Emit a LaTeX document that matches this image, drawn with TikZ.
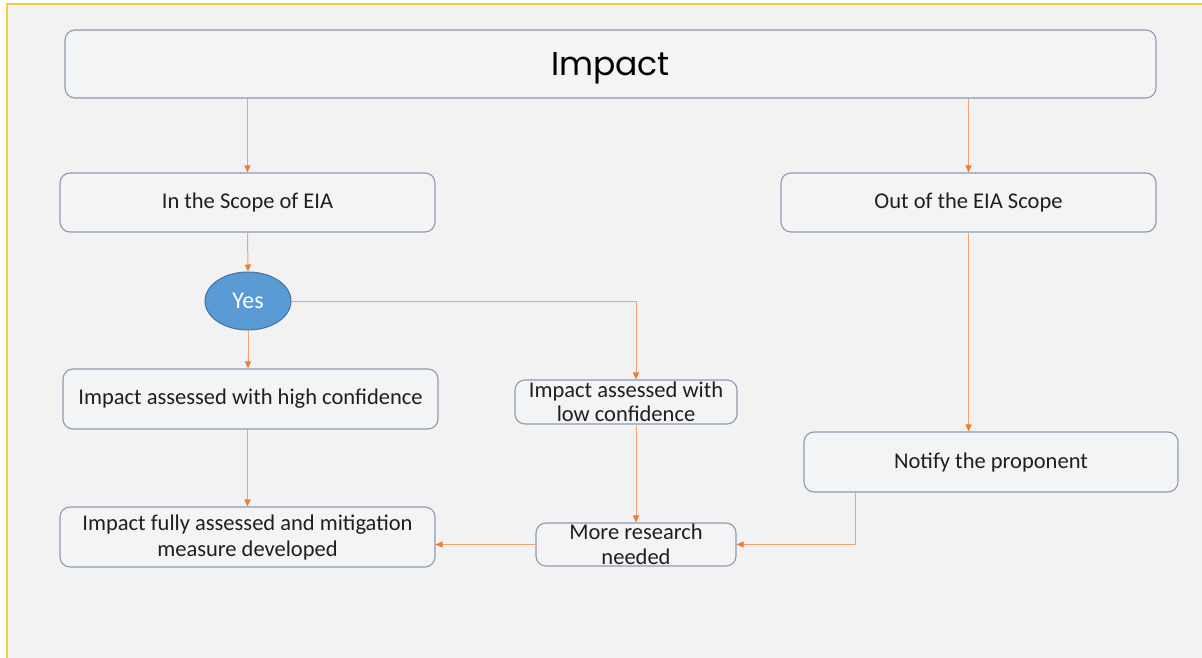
\documentclass[tikz,border=0pt]{standalone}
\usepackage{fontspec}
\setmainfont{Carlito}
\newfontfamily\titlefont{Poppins}
\usetikzlibrary{shapes.geometric,arrows.meta}
\definecolor{bgc}{HTML}{F2F2F2}
\definecolor{boxfill}{HTML}{F3F4F6}
\definecolor{boxline}{HTML}{8C9BB0}
\definecolor{arr}{HTML}{F2A46F}
\definecolor{arrhead}{HTML}{ED7D31}
\definecolor{yesfill}{HTML}{5B9BD5}
\definecolor{yesline}{HTML}{41719C}
\definecolor{frame}{HTML}{F0D040}
\tikzset{
  box/.style={draw=boxline, fill=boxfill, line width=1.1pt, rounded corners=10pt,
    align=center, inner sep=1pt, font=\fontsize{22.5}{26}\selectfont, text=black!88},
  conn/.style={draw=arr, line width=1pt, -{Triangle[length=7pt,width=6pt,fill=arrhead,color=arrhead]}},
}
\begin{document}
\begin{tikzpicture}[x=1pt,y=-1pt]
\useasboundingbox (0,0) rectangle (1202,658);
\fill[white] (0,0) rectangle (1202,658);
\fill[bgc] (7,4) rectangle (1202,658);
\draw[frame, line width=1.5pt] (7,658) -- (7,4) -- (1202,4);

\node[box, minimum width=1091pt, minimum height=68pt, text=black, font=\titlefont\fontsize{33}{38}\selectfont] (impact) at (610.5,64) {\raisebox{-12pt}[0pt][0pt]{Impact}};
\node[box, minimum width=375pt, minimum height=59pt] (inscope) at (247.5,202.5) {In the Scope of EIA};
\node[box, minimum width=375pt, minimum height=59pt] (outscope) at (968.5,202.5) {Out of the EIA Scope};
\node[ellipse, draw=yesline, fill=yesfill, line width=1pt, minimum width=86pt, minimum height=58pt, inner sep=0pt,
  text=white, font=\fontsize{24}{28}\selectfont] (yes) at (248,301) {Yes};
\node[box, minimum width=375pt, minimum height=60pt] (high) at (250.5,399) {Impact assessed with high confidence};
\node[box, minimum width=222pt, minimum height=44pt, font=\fontsize{22.5}{24}\selectfont] (low) at (626,402) {Impact assessed with\\low confidence};
\node[box, minimum width=374pt, minimum height=60pt] (notify) at (991,462) {Notify the proponent};
\node[box, minimum width=375pt, minimum height=60pt] (fully) at (247.5,537) {Impact fully assessed and mitigation\\measure developed};
\node[box, minimum width=200pt, minimum height=43pt, font=\fontsize{22.5}{25}\selectfont] (more) at (636,544.5) {More research\\needed};

\draw[conn] (impact.south -| inscope.north) -- (inscope.north);
\draw[conn] (impact.south -| outscope.north) -- (outscope.north);
\draw[conn] (inscope.south) -- (yes.north);
\draw[conn] (yes.south) -- (yes.south |- high.north);
\draw[conn] (yes.east) -| (more.north |- low.north);
\draw[conn] (high.south -| fully.north) -- (fully.north);
\draw[conn] (outscope.south) -- (outscope.south |- notify.north);
\draw[conn] (more.north |- low.south) -- (more.north);
\draw[conn] ([xshift=-136pt]notify.south) |- (more.east);
\draw[conn] (more.west) -- (fully.east |- more.west);
\end{tikzpicture}
\end{document}
